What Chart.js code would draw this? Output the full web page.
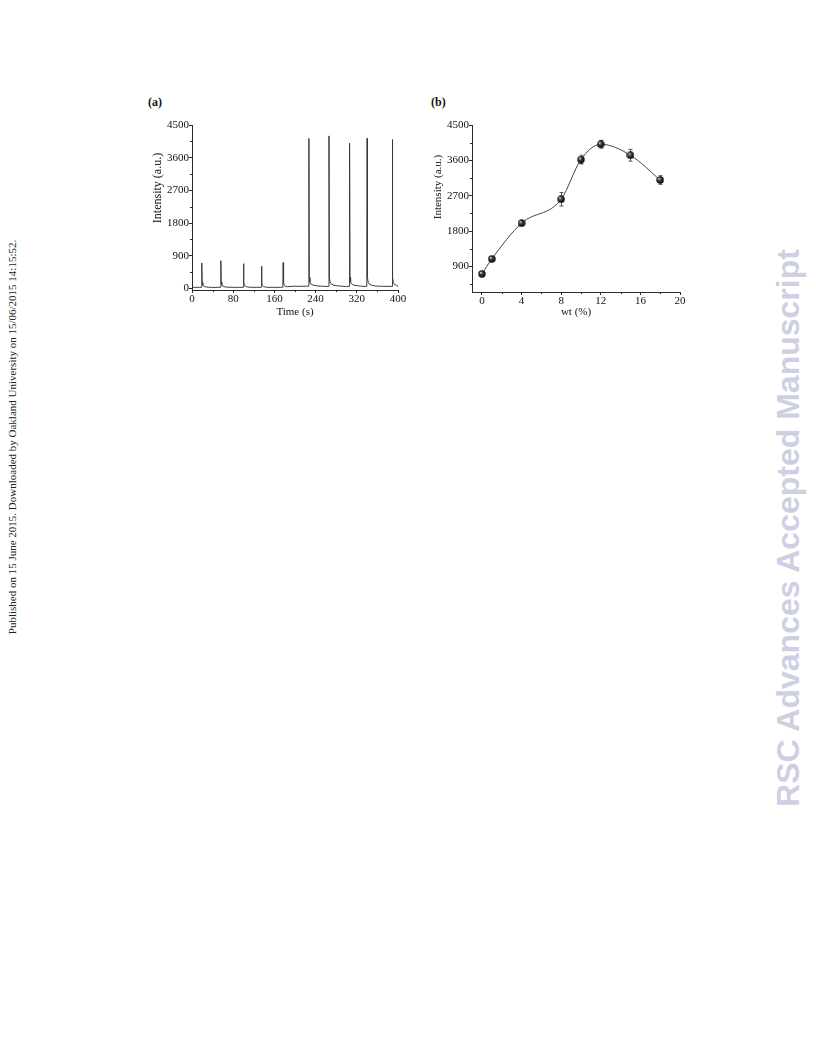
<!DOCTYPE html>
<html>
<head>
<meta charset="utf-8">
<script src="https://cdn.jsdelivr.net/npm/chart.js@4.4.1/dist/chart.umd.min.js"></script>
<style>
  body { margin:0; width:816px; height:1056px; background:#fff; position:relative; overflow:hidden; font-family:"Liberation Serif", "Times New Roman", serif; }
  canvas { position:absolute; }
  #chartA { left:140px; top:110px; }
  #chartB { left:420px; top:110px; }
  .tag { position:absolute; font-weight:bold; font-size:12px; color:#111; }
  #tagA { left:148px; top:95px; }
  #tagB { left:431px; top:95px; }
  .ytitle { position:absolute; width:90px; height:14px; line-height:14px; text-align:center; transform:rotate(-90deg); white-space:nowrap; color:#111; font-weight:normal; }
  #ytitleA { left:112px; top:181px; font-size:12px; }
  #ytitleB { left:392px; top:180px; font-size:11px; }
  #sideNote { position:absolute; left:12px; top:437px; transform:translate(-50%,-50%) rotate(-90deg); white-space:nowrap; font-size:11px; color:#222; }
  #mark { position:absolute; left:788px; top:528px; transform:translate(-50%,-50%) rotate(-90deg); white-space:nowrap; font-family:"Liberation Sans", Arial, sans-serif; font-weight:bold; font-size:32px; color:#cfcfe3; }
</style>
</head>
<body>
<div class="tag" id="tagA">(a)</div>
<div class="tag" id="tagB">(b)</div>
<canvas id="chartA" width="275" height="215"></canvas>
<canvas id="chartB" width="275" height="215"></canvas>
<div class="ytitle" id="ytitleA">Intensity (a.u.)</div>
<div class="ytitle" id="ytitleB">Intensity (a.u.)</div>
<div id="sideNote">Published on 15 June 2015. Downloaded by Oakland University on 15/06/2015 14:15:52.</div>
<div id="mark">RSC Advances Accepted Manuscript</div>

<script>
// (a) intensity trace over time
const timeA = [
  0, 5, 10, 15, 18.4, 19, 19.8, 21, 23, 27, 32,
  38, 45, 50, 55.4, 56, 56.8, 58, 60, 64, 70,
  78, 85, 92, 99.4, 100, 100.8, 102, 104, 108, 114,
  120, 126, 130, 134.4, 135, 135.8, 137, 139, 143, 150,
  158, 165, 172, 176.4, 177, 177.8, 179, 181, 185, 192,
  200, 208, 215, 222, 226.4, 227, 227.8, 229, 231, 235, 242,
  250, 258, 265.4, 266, 266.8, 268, 270, 274, 282,
  290, 298, 305.4, 306, 306.8, 308, 310, 314, 322,
  330, 336, 339.4, 340, 340.8, 342, 344, 348, 356,
  364, 372, 380, 388.4, 389, 389.8, 391, 393, 397, 400
];
const intensityA = [
  30, 25, 30, 28, 30, 700, 160, 90, 55, 40, 30,
  28, 25, 30, 30, 760, 170, 95, 60, 40, 32,
  30, 28, 28, 30, 680, 150, 85, 55, 38, 30,
  28, 30, 28, 30, 610, 140, 80, 50, 35, 28,
  30, 28, 30, 30, 710, 160, 90, 55, 45, 55,
  60, 55, 60, 60, 60, 4130, 300, 170, 120, 90, 70,
  60, 55, 55, 4200, 320, 180, 130, 90, 70,
  60, 55, 55, 4000, 300, 170, 120, 90, 70,
  60, 55, 55, 4130, 300, 170, 120, 90, 65,
  60, 55, 55, 55, 4100, 300, 160, 110, 80, 60
];
const timeTicks = [0, 80, 160, 240, 320, 400];
const timeMinor = [40, 120, 200, 280, 360];
const intensityTicksA = [0, 900, 1800, 2700, 3600, 4500];
const intensityMinorA = [450, 1350, 2250, 3150, 4050];

// (b) intensity versus wt %
const wt = [0, 1, 4, 8, 10, 12, 15, 18];
const intensityB = [710, 1090, 2000, 2610, 3620, 4010, 3730, 3100];
const errorB = [60, 60, 60, 170, 110, 100, 150, 110];
const wtTicks = [0, 4, 8, 12, 16, 20];
const wtMinor = [2, 6, 10, 14, 18];
const intensityTicksB = [900, 1800, 2700, 3600, 4500];
const intensityMinorB = [450, 1350, 2250, 3150, 4050];

const INK = '#2a2a2a';
const FONT = { family: '"Liberation Serif", "Times New Roman", serif', size: 11 };

// short outward ticks between the labelled ones
const minorTicks = {
  id: 'minorTicks',
  afterDraw(chart, args, opts) {
    const { ctx } = chart;
    const sx = chart.scales.x, sy = chart.scales.y;
    ctx.save();
    ctx.strokeStyle = INK;
    ctx.lineWidth = 1;
    (opts.x || []).forEach(v => {
      const px = Math.round(sx.getPixelForValue(v)) + 0.5;
      ctx.beginPath(); ctx.moveTo(px, sy.bottom); ctx.lineTo(px, sy.bottom + 2); ctx.stroke();
    });
    (opts.y || []).forEach(v => {
      const py = Math.round(sy.getPixelForValue(v)) + 0.5;
      ctx.beginPath(); ctx.moveTo(sx.left, py); ctx.lineTo(sx.left - 2, py); ctx.stroke();
    });
    ctx.restore();
  }
};

// vertical error bars with caps, drawn under the markers
const errorBars = {
  id: 'errorBars',
  beforeDatasetsDraw(chart, args, opts) {
    if (!opts.errors) return;
    const { ctx } = chart;
    const sx = chart.scales.x, sy = chart.scales.y;
    const data = chart.data.datasets[0].data;
    ctx.save();
    ctx.strokeStyle = '#555';
    ctx.lineWidth = 1;
    data.forEach((p, i) => {
      const px = Math.round(sx.getPixelForValue(p.x)) + 0.5;
      const top = sy.getPixelForValue(p.y + opts.errors[i]);
      const bot = sy.getPixelForValue(p.y - opts.errors[i]);
      ctx.beginPath();
      ctx.moveTo(px, top); ctx.lineTo(px, bot);
      ctx.moveTo(px - 2, top); ctx.lineTo(px + 2, top);
      ctx.moveTo(px - 2, bot); ctx.lineTo(px + 2, bot);
      ctx.stroke();
    });
    ctx.restore();
  }
};

function axis(ticksArr, min, max, title, fixedSize, isX, titlePad) {
  return {
    type: 'linear',
    min, max,
    afterBuildTicks: s => { s.ticks = ticksArr.map(v => ({ value: v })); },
    afterFit: s => { if (isX) s.height = fixedSize; else s.width = fixedSize; },
    ticks: { font: FONT, color: '#111', padding: 0, maxRotation: 0, autoSkip: false,
             callback: v => String(v) },
    grid: { drawOnChartArea: false, drawTicks: true, tickLength: 3, tickColor: INK, color: INK },
    border: { display: true, color: INK, width: 1 },
    title: { display: !!title, text: title, font: FONT, color: '#111', padding: titlePad }
  };
}

// shaded ball marker
function ballMarker(d) {
  const c = document.createElement('canvas');
  c.width = d; c.height = d;
  const g = c.getContext('2d');
  const r = d / 2;
  const grad = g.createRadialGradient(r * 0.7, r * 0.65, 0.3, r, r, r);
  grad.addColorStop(0, '#d8d8d8');
  grad.addColorStop(0.35, '#3a3a3a');
  grad.addColorStop(1, '#000');
  g.fillStyle = grad;
  g.beginPath(); g.arc(r, r, r - 0.3, 0, Math.PI * 2); g.fill();
  return c;
}

new Chart(document.getElementById('chartA'), {
  type: 'line',
  data: {
    datasets: [{
      data: timeA.map((t, i) => ({ x: t, y: intensityA[i] })),
      borderColor: '#3a3a3a',
      borderWidth: 1,
      pointRadius: 0,
      tension: 0,
      fill: false
    }]
  },
  options: {
    responsive: false,
    devicePixelRatio: 1,
    animation: false,
    layout: { padding: { top: 15, right: 17, left: 0, bottom: 0 } },
    plugins: { legend: { display: false }, tooltip: { enabled: false },
      minorTicks: { x: timeMinor, y: intensityMinorA } },
    scales: {
      x: axis(timeTicks, 0, 400, 'Time (s)', 35, true, { top: 0, bottom: 6 }),
      y: axis(intensityTicksA, -45, 4500, '', 52, false, 0)
    }
  },
  plugins: [minorTicks]
});

new Chart(document.getElementById('chartB'), {
  type: 'line',
  data: {
    datasets: [{
      data: wt.map((w, i) => ({ x: w, y: intensityB[i] })),
      borderColor: '#444',
      borderWidth: 1,
      cubicInterpolationMode: 'monotone',
      pointStyle: ballMarker(8),
      pointRadius: 4,
      fill: false
    }]
  },
  options: {
    responsive: false,
    devicePixelRatio: 1,
    animation: false,
    layout: { padding: { top: 15, right: 15, left: 0, bottom: 0 } },
    plugins: { legend: { display: false }, tooltip: { enabled: false },
      minorTicks: { x: wtMinor, y: intensityMinorB },
      errorBars: { errors: errorB } },
    scales: {
      x: axis(wtTicks, -1, 20, 'wt (%)', 33, true, { top: 0, bottom: 6 }),
      y: axis(intensityTicksB, 250, 4500, '', 52, false, 0)
    }
  },
  plugins: [errorBars, minorTicks]
});
</script>
</body>
</html>
